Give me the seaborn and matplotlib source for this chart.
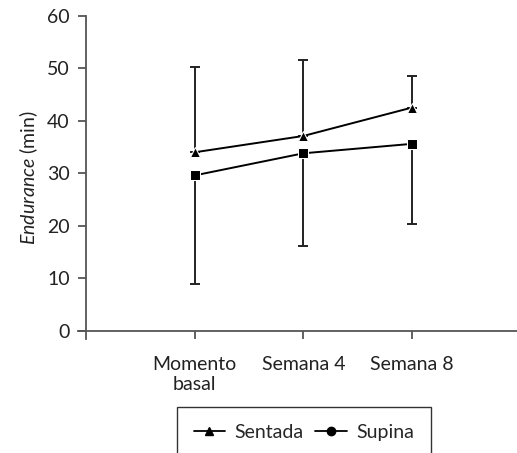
import pandas as pd
import numpy as np
import seaborn as sns
import matplotlib.pyplot as plt
from matplotlib.lines import Line2D

momentos = ['Momento\nbasal', 'Semana 4', 'Semana 8']
sentada = [34.0, 37.1, 42.5]
sentada_sup = [50.3, 51.6, 48.5]
supina = [29.6, 33.8, 35.6]
supina_inf = [8.9, 16.2, 20.4]

df = pd.DataFrame({'momento': momentos * 2,
                   'valor': sentada + supina,
                   'grupo': ['Sentada'] * 3 + ['Supina'] * 3})

sns.set_style('white')
plt.rcParams['font.family'] = ['Lato', 'DejaVu Sans']
plt.rcParams['mathtext.fontset'] = 'custom'
plt.rcParams['mathtext.it'] = 'Lato:italic'
plt.rcParams['mathtext.rm'] = 'Lato'

fs = 14

fig = plt.figure(figsize=(5.17, 4.53), dpi=100)
ax = fig.add_axes([86/517 - 0.016, 122/453 - 0.017, 1 - 86/517 + 0.016, 315.3/453 + 0.017])

sns.lineplot(data=df, x='momento', y='valor', hue='grupo', style='grupo',
             markers={'Sentada': '^', 'Supina': 's'}, dashes=False,
             palette={'Sentada': 'black', 'Supina': 'black'},
             markersize=7, linewidth=1.4, ax=ax, legend=False, zorder=3)

x = np.arange(3)
ax.errorbar(x, sentada, yerr=[np.zeros(3), np.array(sentada_sup) - np.array(sentada)],
            fmt='none', ecolor='#222222', elinewidth=1.4, capsize=3.8, capthick=1.4, zorder=2)
ax.errorbar(x, supina, yerr=[np.array(supina) - np.array(supina_inf), np.zeros(3)],
            fmt='none', ecolor='#222222', elinewidth=1.4, capsize=3.8, capthick=1.4, zorder=2)

ax.set_xlim(-1.08, 2.97)
ax.set_ylim(-1.5, 60)
ax.spines['left'].set_position(('data', -1))
ax.spines['bottom'].set_position(('data', 0))
ax.spines['top'].set_visible(False)
ax.spines['right'].set_visible(False)
for s in ['left', 'bottom']:
    ax.spines[s].set_color('#555555')
    ax.spines[s].set_linewidth(1.3)

ax.set_yticks(range(0, 61, 10))
ax.set_xticks(x)
ax.set_xticklabels(momentos, linespacing=1.2)
ax.tick_params(axis='both', direction='out', length=6, width=1.3, color='#555555',
               labelsize=fs, labelcolor='#222222', left=True, bottom=True)
ax.tick_params(axis='x', pad=12)
ax.tick_params(axis='y', pad=6)
ax.set_xlabel('')
ax.set_ylabel(r'$Endurance$ (min)', fontsize=fs, color='#222222', labelpad=5)

handles = [Line2D([], [], color='black', marker='^', markersize=6, lw=1.3),
           Line2D([], [], color='black', marker='o', markersize=6, lw=1.3)]
leg = fig.legend(handles, ['Sentada', 'Supina'], loc='upper center',
                 bbox_to_anchor=(304/517, 1 - 407/453), ncol=2, frameon=True,
                 fancybox=False, edgecolor='black', fontsize=fs,
                 handlelength=1.6, handletextpad=0.5, columnspacing=0.6,
                 borderpad=0.85, borderaxespad=0)
leg.get_frame().set_linewidth(1.0)

fig.savefig('out.png', dpi=100)
